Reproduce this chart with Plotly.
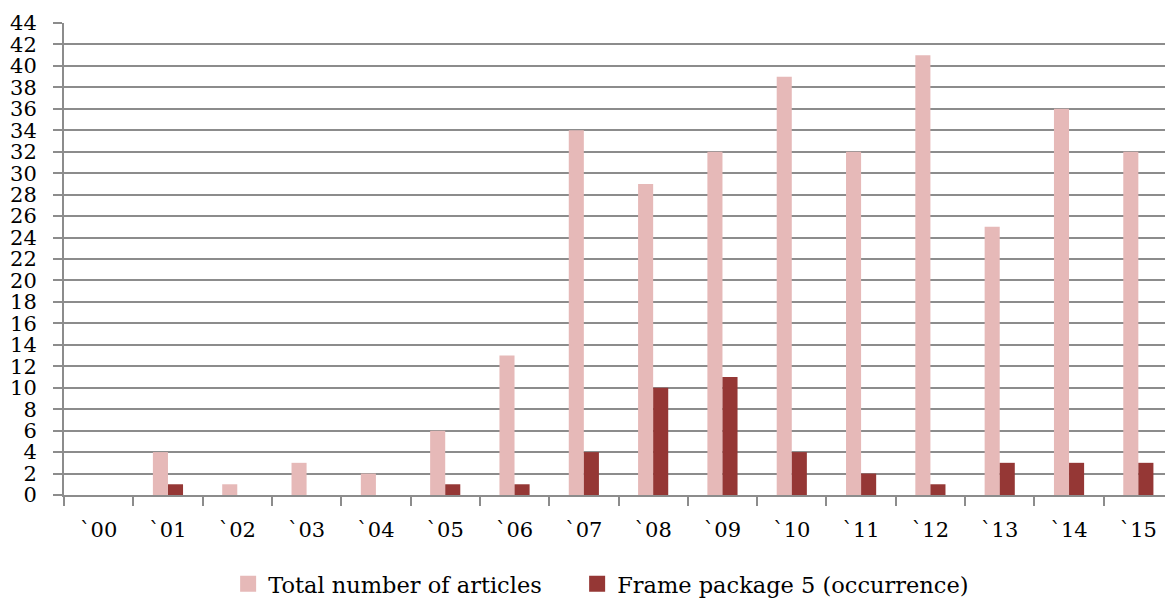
import plotly.graph_objects as go

years = ["`00", "`01", "`02", "`03", "`04", "`05", "`06", "`07", "`08", "`09", "`10", "`11", "`12", "`13", "`14", "`15"]
total_articles = [0, 4, 1, 3, 2, 6, 13, 34, 29, 32, 39, 32, 41, 25, 36, 32]
frame_package5 = [0, 1, 0, 0, 0, 1, 1, 4, 10, 11, 4, 2, 1, 3, 3, 3]
y_ticks = list(range(0, 45, 2))

names = ["Total number of articles", "Frame package 5 (occurrence)"]
colors = ["#E6B9B8", "#953735"]
legend_ids = ["legend", "legend2"]
font_family = "DejaVu Serif"

fig = go.Figure()
for vals, name, col in zip([total_articles, frame_package5], names, colors):
    fig.add_trace(go.Bar(x=years, y=vals, name=name, showlegend=False,
                         marker=dict(color=col, line=dict(width=0))))
# legend entries with larger square swatches, one legend box each
for name, col, lid in zip(names, colors, legend_ids):
    fig.add_trace(go.Scatter(x=[None], y=[None], mode="markers", name=name,
                             marker=dict(symbol="square", size=16, color=col),
                             showlegend=True, legend=lid))

legend_common = dict(orientation="h", xanchor="left", y=-0.189, yanchor="middle",
                     font=dict(family=font_family, size=22.5), itemsizing="trace",
                     bgcolor="rgba(0,0,0,0)")

fig.update_layout(
    width=1165, height=591,
    margin=dict(l=56, r=0, t=15, b=104, autoexpand=False),
    paper_bgcolor="white", plot_bgcolor="white",
    barmode="group", bargap=0.565, bargroupgap=0,
    font=dict(family=font_family, size=21, color="black"),
    legend=dict(x=0.148, **legend_common),
    legend2=dict(x=0.4627, **legend_common),
    showlegend=True,
)
fig.update_xaxes(
    type="category", showgrid=False, showline=True, linecolor="#8c8c8c", linewidth=2,
    ticks="outside", tickson="boundaries", ticklen=9, tickwidth=2, tickcolor="#8c8c8c",
    tickfont=dict(family=font_family, size=21), automargin=False, ticklabelstandoff=15,
)
fig.update_yaxes(
    range=[0, 44], tickvals=y_ticks, showgrid=True, gridcolor="#8c8c8c", gridwidth=2,
    showline=True, linecolor="#8c8c8c", linewidth=2, zeroline=False,
    ticks="outside", ticklen=9, tickwidth=2, tickcolor="#8c8c8c",
    tickfont=dict(family=font_family, size=21), automargin=False, ticklabelstandoff=12,
)

fig.write_html("out.html")
